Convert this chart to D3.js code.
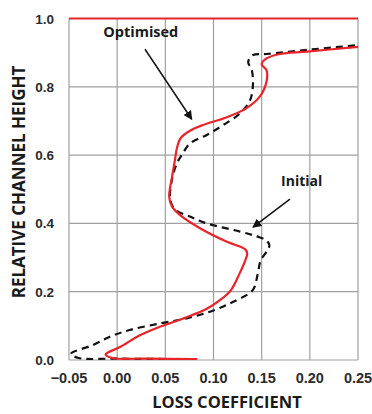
<!DOCTYPE html>
<html>
<head>
<meta charset="utf-8">
<script src="https://cdn.jsdelivr.net/npm/d3@7"></script>
<style>
  body { margin: 0; background: #fff; }
  svg { display: block; }
</style>
</head>
<body>
<script>
// Chart size and plot margins
var width = 372,
    height = 414,
    margin = {left: 69, right: 14, top: 18.5, bottom: 54};

// Tick values
var xTicks = [-0.05, 0.00, 0.05, 0.10, 0.15, 0.20, 0.25];
var yTicks = [0.0, 0.2, 0.4, 0.6, 0.8, 1.0];

// Optimised profile (loss coefficient, relative height)
var optX = [0.083, 0.03, -0.005, -0.012, 0.003, 0.024, 0.045, 0.072, 0.093, 0.107, 0.118, 0.127, 0.133, 0.135, 0.133,
            0.114, 0.086, 0.065, 0.057, 0.054, 0.057, 0.060, 0.062, 0.066, 0.076, 0.089, 0.114, 0.134, 0.148, 0.155, 0.155,
            0.150, 0.155, 0.169, 0.197, 0.25];
var optY = [0.003, 0.004, 0.006, 0.016, 0.038, 0.073, 0.098, 0.125, 0.150, 0.176, 0.204, 0.253, 0.292, 0.311, 0.324,
            0.346, 0.386, 0.425, 0.449, 0.478, 0.537, 0.586, 0.620, 0.650, 0.672, 0.688, 0.711, 0.737, 0.771, 0.815, 0.849,
            0.866, 0.883, 0.896, 0.903, 0.917];

// Initial profile
var initX = [0.05, 0.0, -0.04, -0.048, -0.025, -0.0075, 0.013, 0.0445, 0.072, 0.098, 0.12, 0.1405, 0.146, 0.149, 0.156,
             0.158, 0.155, 0.145, 0.1275, 0.093, 0.0756, 0.06, 0.055, 0.057, 0.062, 0.067, 0.0756, 0.093, 0.11, 0.1275,
             0.138, 0.141, 0.1397, 0.136, 0.141, 0.155, 0.197, 0.25];
var initY = [0.003, 0.004, 0.006, 0.018, 0.044, 0.068, 0.088, 0.107, 0.122, 0.143, 0.170, 0.204, 0.253, 0.292, 0.321,
             0.336, 0.350, 0.362, 0.376, 0.400, 0.420, 0.441, 0.470, 0.530, 0.576, 0.600, 0.634, 0.659, 0.688, 0.722,
             0.761, 0.810, 0.849, 0.873, 0.893, 0.896, 0.908, 0.922];

// Wall line at the top of the channel
var wallX = [-0.05, 0.25];
var wallY = [1.0, 1.0];

// Annotation labels and arrows (text pos, arrow start, arrow end)
var labels = ["Optimised", "Initial"];
var labelPos = [[0.0245, 0.958], [0.1915, 0.521]];
var arrowFrom = [[0.0289, 0.910], [0.1794, 0.471]];
var arrowTo = [[0.0774, 0.705], [0.141, 0.389]];

var red = "#e8242a";

var svg = d3.select("body").append("svg")
    .attr("width", width)
    .attr("height", height);

var x = d3.scaleLinear()
    .domain([-0.05, 0.25])
    .range([margin.left, width - margin.right]);

var y = d3.scaleLinear()
    .domain([0, 1])
    .range([height - margin.bottom, margin.top]);

svg.append("defs").append("marker")
    .attr("id", "arrow")
    .attr("viewBox", "0 0 10 10")
    .attr("refX", 9)
    .attr("refY", 5)
    .attr("markerWidth", 6)
    .attr("markerHeight", 6)
    .attr("orient", "auto")
    .append("path")
    .attr("d", "M0,0 L10,5 L0,10 z")
    .attr("fill", "#111");

// Grid lines
svg.append("g")
    .selectAll("line")
    .data(xTicks)
    .enter().append("line")
    .attr("x1", d => x(d)).attr("x2", d => x(d))
    .attr("y1", y(0)).attr("y2", y(1))
    .attr("stroke", "#a0a0a0")
    .attr("stroke-width", 1.2);

svg.append("g")
    .selectAll("line")
    .data(yTicks)
    .enter().append("line")
    .attr("x1", x(-0.05)).attr("x2", x(0.25))
    .attr("y1", d => y(d)).attr("y2", d => y(d))
    .attr("stroke", "#a0a0a0")
    .attr("stroke-width", 1.2);

// Tick labels
svg.append("g")
    .selectAll("text")
    .data(xTicks)
    .enter().append("text")
    .attr("x", d => x(d))
    .attr("y", y(0) + 23)
    .attr("text-anchor", "middle")
    .attr("font-family", "Liberation Sans, Arial, sans-serif")
    .attr("font-weight", "bold")
    .attr("font-size", 14.5)
    .attr("fill", "#2b2b2b")
    .text(d => d3.format(".2f")(d));

svg.append("g")
    .selectAll("text")
    .data(yTicks)
    .enter().append("text")
    .attr("x", margin.left - 15)
    .attr("y", d => y(d) + 5)
    .attr("text-anchor", "end")
    .attr("font-family", "Liberation Sans, Arial, sans-serif")
    .attr("font-weight", "bold")
    .attr("font-size", 13.5)
    .attr("fill", "#2b2b2b")
    .text(d => d3.format(".1f")(d));

// Axis titles
svg.append("text")
    .attr("x", 227)
    .attr("y", 408)
    .attr("text-anchor", "middle")
    .attr("font-family", "Open Sans, sans-serif")
    .attr("font-weight", "bold")
    .attr("font-size", 16.5)
    .attr("fill", "#1a1a1a")
    .text("LOSS COEFFICIENT");

svg.append("text")
    .attr("transform", "translate(25,182) rotate(-90)")
    .attr("text-anchor", "middle")
    .attr("font-family", "Open Sans, sans-serif")
    .attr("font-weight", "bold")
    .attr("font-size", 17)
    .attr("fill", "#1a1a1a")
    .text("RELATIVE CHANNEL HEIGHT");

// Curves
var line = d3.line()
    .x(d => x(d[0]))
    .y(d => y(d[1]))
    .curve(d3.curveCatmullRom.alpha(0.5));

svg.append("path")
    .datum(d3.zip(initX, initY))
    .attr("fill", "none")
    .attr("stroke", "#111")
    .attr("stroke-width", 2.2)
    .attr("stroke-dasharray", "7,5")
    .attr("d", line);

svg.append("path")
    .datum(d3.zip(optX, optY))
    .attr("fill", "none")
    .attr("stroke", red)
    .attr("stroke-width", 2.2)
    .attr("d", line);

svg.append("path")
    .datum(d3.zip(wallX, wallY))
    .attr("fill", "none")
    .attr("stroke", red)
    .attr("stroke-width", 2.2)
    .attr("d", d3.line().x(d => x(d[0])).y(d => y(d[1])));

// Annotations
labels.forEach(function(t, i) {
    svg.append("line")
        .attr("x1", x(arrowFrom[i][0])).attr("y1", y(arrowFrom[i][1]))
        .attr("x2", x(arrowTo[i][0])).attr("y2", y(arrowTo[i][1]))
        .attr("stroke", "#111")
        .attr("stroke-width", 1.5)
        .attr("marker-end", "url(#arrow)");

    svg.append("text")
        .attr("x", x(labelPos[i][0]))
        .attr("y", y(labelPos[i][1]))
        .attr("text-anchor", "middle")
        .attr("dominant-baseline", "middle")
        .attr("font-family", "Open Sans, sans-serif")
        .attr("font-weight", "bold")
        .attr("font-size", i == 0 ? 14.5 : 14)
        .attr("fill", "#1a1a1a")
        .text(t);
});
</script>
</body>
</html>
